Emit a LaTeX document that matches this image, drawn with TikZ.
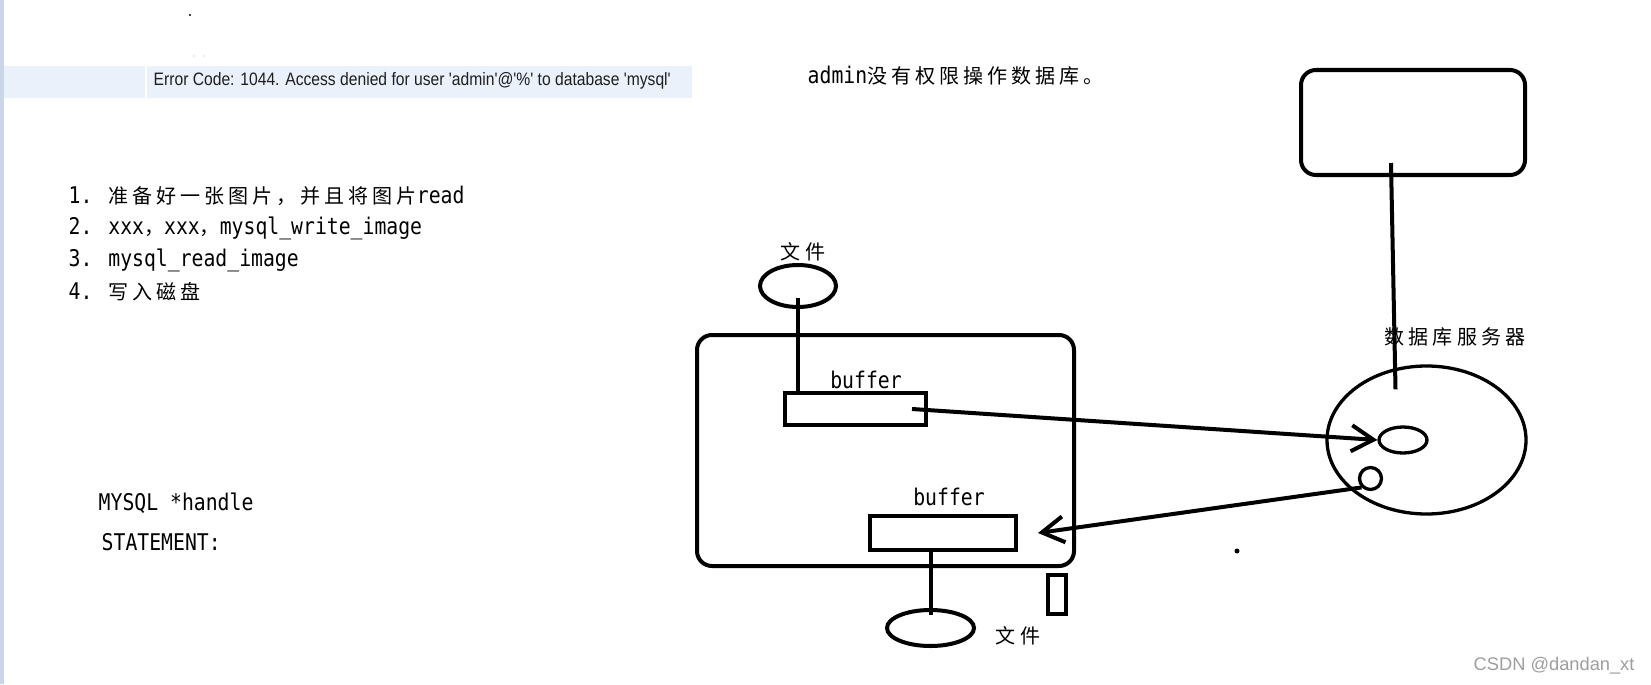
\documentclass[tikz,border=0pt]{standalone}
\usepackage{fontspec}
\usepackage{tikz}
\usetikzlibrary{shapes.geometric,arrows.meta}

\setmainfont{Liberation Sans}
\newfontfamily\codefont[FakeStretch=0.86]{DejaVu Sans Mono}
\newfontfamily\zhfont[LetterSpace=20]{Noto Sans CJK SC}
\newfontfamily\errfont[FakeStretch=0.87]{Liberation Sans}
\newcommand{\zh}[1]{{\fontsize{5.7pt}{8pt}\selectfont\zhfont #1}}

\definecolor{band}{HTML}{EAF1FB}
\definecolor{stripe}{HTML}{CAD5E7}
\definecolor{errink}{HTML}{1E1E1E}
\definecolor{markink}{HTML}{9E9E9E}

\tikzset{
  box/.style={draw, line width=1.14pt, inner sep=0},
  roundbox/.style={box, rounded corners=0.15cm},
  oval/.style={draw, ellipse, line width=1.14pt, inner sep=0},
  thinoval/.style={oval, line width=0.94pt},
  link/.style={line width=1.14pt},
  flow/.style={link, -{Straight Barb[length=2.2mm,width=2.6mm]}},
  codetext/.style={font=\codefont\fontsize{6.54pt}{8pt}\selectfont, inner sep=0, anchor=west},
  zhtext/.style={inner sep=0},
  errtext/.style={font=\errfont\fontsize{5.12pt}{7pt}\selectfont, text=errink, inner sep=0, anchor=west},
  watermark/.style={font=\fontsize{5.2pt}{7pt}\selectfont, text=markink, inner sep=0, anchor=west}
}

\begin{document}
\begin{tikzpicture}

\useasboundingbox (0,0) rectangle (16.51,-6.84);
\fill[white] (0,0) rectangle (16.51,-6.84);

% left edge and error row
\fill[stripe] (0,0) rectangle (0.04,-6.84);
\fill[band] (0.04,-0.66) rectangle (1.45,-0.98);
\fill[band] (1.47,-0.66) rectangle (6.92,-0.98);
\node[errtext] (error) at (1.53,-0.81) {Error Code: 1044. Access denied for user 'admin'@'\%' to database 'mysql'};

% stray dots
\fill (1.90,-0.15) circle (0.012);
\fill[black!35] (1.94,-0.56) circle (0.006);
\fill[black!35] (2.04,-0.56) circle (0.006);
\fill (12.37,-5.51) circle (0.025);

% steps
\node[codetext] (step1) at (0.68,-1.96) {1. \zh{准备好一张图片，并且将图片}read};
\node[codetext] (step2) at (0.68,-2.28) {2. xxx\zh{，}xxx\zh{，}mysql\_write\_image};
\node[codetext] (step3) at (0.68,-2.60) {3. mysql\_read\_image};
\node[codetext] (step4) at (0.68,-2.92) {4. \zh{写入磁盘}};

\node[codetext] (handle) at (0.98,-5.03) {MYSQL *handle};
\node[codetext] (statement) at (1.01,-5.42) {STATEMENT:};

\node[codetext] (note) at (8.07,-0.76) {admin\zh{没有权限操作数据库。}};

% client program
\node[roundbox, minimum width=3.77cm, minimum height=2.31cm] (client) at (8.855,-4.505) {};

% read side
\node[oval, minimum width=0.76cm, minimum height=0.42cm] (fileA) at (7.98,-2.86) {};
\node[zhtext] (fileAlabel) at (8.03,-2.52) {\zh{文件}};
\node[box, minimum width=1.41cm, minimum height=0.32cm] (bufA) at (8.555,-4.09) {};
\node[codetext, anchor=center] (bufAlabel) at (8.66,-3.80) {buffer};

% write side
\node[box, minimum width=1.46cm, minimum height=0.34cm] (bufB) at (9.43,-5.33) {};
\node[codetext, anchor=center] (bufBlabel) at (9.49,-4.97) {buffer};
\node[oval, minimum width=0.87cm, minimum height=0.36cm] (fileB) at (9.305,-6.28) {};
\node[zhtext] (fileBlabel) at (10.18,-6.36) {\zh{文件}};
\node[box, minimum width=0.18cm, minimum height=0.39cm] (slot) at (10.57,-5.945) {};

% server side
\node[roundbox, minimum width=2.24cm, minimum height=1.05cm] (host) at (14.13,-1.225) {};
\node[zhtext] (serverlabel) at (14.55,-3.37) {\zh{数据库服务器}};
\node[thinoval, minimum width=1.99cm, minimum height=1.48cm] (server) at (14.265,-4.40) {};
\node[thinoval, minimum width=0.48cm, minimum height=0.26cm] (core) at (14.03,-4.40) {};
\node[thinoval, minimum width=0.22cm, minimum height=0.22cm] (port) at (13.705,-4.785) {};

% connectors
\draw[link] ([yshift=-0.12cm]fileA.center) -- (fileA.center |- bufA.north);
\draw[flow] ([xshift=-0.16cm]bufA.east) -- (core.west);
\draw[flow] (port.south west) -- ([xshift=0.2cm]bufB.east);
\draw[link] (fileB.center |- bufB.south) -- ([yshift=0.13cm]fileB.center);
\draw[link] ([shift={(-0.22,0.14)}]host.south) -- ([shift={(-0.31,-0.25)}]server.north);

% watermark
\node[watermark] (csdn) at (14.73,-6.66) {CSDN @dandan\_xt};

\end{tikzpicture}
\end{document}
